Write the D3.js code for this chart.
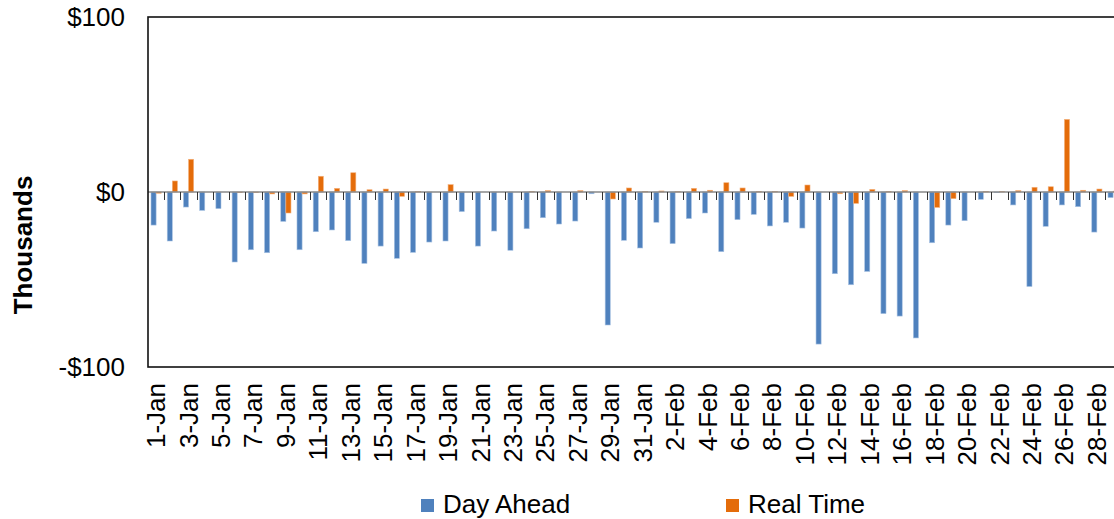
<!DOCTYPE html>
<html><head><meta charset="utf-8">
<script src="https://cdn.jsdelivr.net/npm/d3@7"></script>
<style>html,body{margin:0;padding:0;background:#fff;overflow:hidden}svg{display:block}</style>
</head><body>
<svg id="chart" width="1114" height="519"></svg>
<script>
const categories = ["1-Jan","2-Jan","3-Jan","4-Jan","5-Jan","6-Jan","7-Jan","8-Jan","9-Jan","10-Jan",
"11-Jan","12-Jan","13-Jan","14-Jan","15-Jan","16-Jan","17-Jan","18-Jan","19-Jan","20-Jan",
"21-Jan","22-Jan","23-Jan","24-Jan","25-Jan","26-Jan","27-Jan","28-Jan","29-Jan","30-Jan","31-Jan",
"1-Feb","2-Feb","3-Feb","4-Feb","5-Feb","6-Feb","7-Feb","8-Feb","9-Feb","10-Feb",
"11-Feb","12-Feb","13-Feb","14-Feb","15-Feb","16-Feb","17-Feb","18-Feb","19-Feb","20-Feb",
"21-Feb","22-Feb","23-Feb","24-Feb","25-Feb","26-Feb","27-Feb","28-Feb","29-Feb"];
const dayAhead = [-18.9,-28,-8.6,-10.5,-9.5,-40,-33,-34.7,-16.8,-33,
-22.7,-21.7,-27.8,-40.8,-30.9,-37.9,-34.5,-28.6,-28,-11.2,
-30.9,-22.3,-33.3,-21,-14.7,-18.3,-16.6,-1,-76,-27.6,-32,
-17.3,-29.5,-15.2,-12,-34.1,-15.8,-12.8,-19.4,-17.3,-20.6,
-86.9,-46.7,-53,-45.4,-69.5,-70.9,-83.4,-29,-18.9,-16.4,
-4.2,-0.4,-7.4,-54,-19.6,-7.4,-8.4,-22.9,-3.2];
const realTime = [-0.7,6.3,18.7,0,0,-0.3,-0.3,-1.1,-12,-1.1,
9,2.1,11,1.3,1.7,-2.5,0.2,0,4.2,0,
0,0,0,0.3,0.8,0,0.8,0,-4,2.3,0.3,
0.6,0.2,2.1,1,5.3,2.3,0.2,0.2,-2.5,4,
0,-1,-6.5,1.5,0.2,0.8,0,-8.8,-3.8,0,
0.3,0.2,0.8,2.7,3,41.5,1,1.7,0.5];
const seriesNames = ["Day Ahead","Real Time"];
const seriesColors = ["#4F81BD","#E46C0A"];
const seriesStroke = ["#a9c3e3","#f3b27e"];
const yTicks = [-100, 0, 100];

(function(){
const svg = d3.select("#chart");
const pLeft = 148, pTop = 17, pBottom = 367;
const step = 16.22;
const pRight = pLeft + step * categories.length;

const x = d3.scaleBand().domain(categories).range([pLeft, pRight]).paddingInner(0).paddingOuter(0);
const x1 = d3.scaleBand().domain(seriesNames).range([0, x.bandwidth()]).paddingInner(0).paddingOuter(0.59);
const y = d3.scaleLinear().domain([-100, 100]).range([pBottom, pTop]);

const rows = categories.map((c, i) => ({c, vals: [dayAhead[i], realTime[i]]}));

const g = svg.append("g");
rows.forEach(r => {
  r.vals.forEach((v, j) => {
    if (v === 0) return;
    g.append("rect")
      .attr("x", x(r.c) + x1(seriesNames[j]))
      .attr("width", x1.bandwidth())
      .attr("y", y(Math.max(0, v)))
      .attr("height", Math.abs(y(v) - y(0)))
      .attr("fill", seriesColors[j])
      .attr("stroke", seriesStroke[j])
      .attr("stroke-width", 0.6);
  });
});

const y0 = y(0);
svg.append("line").attr("x1", pLeft).attr("x2", pRight).attr("y1", y0).attr("y2", y0)
  .attr("stroke", "#888").attr("stroke-width", 1.4);
categories.forEach((c, i) => {
  if (i === 0) return;
  const xx = Math.round(x(c)) + 0.5;
  svg.append("line").attr("x1", xx).attr("x2", xx).attr("y1", y0).attr("y2", y0 + 8)
    .attr("stroke", "#333").attr("stroke-width", 1);
});

svg.append("rect").attr("x", pLeft).attr("y", pTop).attr("width", pRight - pLeft).attr("height", pBottom - pTop)
  .attr("fill", "none").attr("stroke", "#111").attr("stroke-width", 1.6);

yTicks.forEach(t => {
  svg.append("text").attr("x", 125).attr("y", y(t)).attr("dy", "0.36em")
    .attr("text-anchor", "end").attr("font-family", "Liberation Sans, Arial, sans-serif")
    .attr("font-size", 26).attr("fill", "#000")
    .text(t < 0 ? "-$" + Math.abs(t) : "$" + t);
});

svg.append("text").attr("transform", "translate(32,245) rotate(-90)")
  .attr("text-anchor", "middle").attr("font-family", "Liberation Sans, Arial, sans-serif")
  .attr("font-weight", "bold").attr("font-size", 26).attr("fill", "#000").text("Thousands");

categories.forEach((c, i) => {
  if (i % 2 !== 0) return;
  const cx = x(c) + x.bandwidth() / 2;
  svg.append("text").attr("transform", `translate(${cx + 9},383) rotate(-90)`)
    .attr("text-anchor", "end").attr("font-family", "Liberation Sans, Arial, sans-serif")
    .attr("font-size", 26).attr("fill", "#000").text(c);
});

const legX = [421, 726];
seriesNames.forEach((n, j) => {
  svg.append("rect").attr("x", legX[j]).attr("y", 499).attr("width", 13).attr("height", 13)
    .attr("fill", seriesColors[j]);
  svg.append("text").attr("x", legX[j] + 22).attr("y", 513)
    .attr("font-family", "Liberation Sans, Arial, sans-serif").attr("font-size", 26)
    .attr("fill", "#000").text(n);
});
})();
</script>
</body></html>
